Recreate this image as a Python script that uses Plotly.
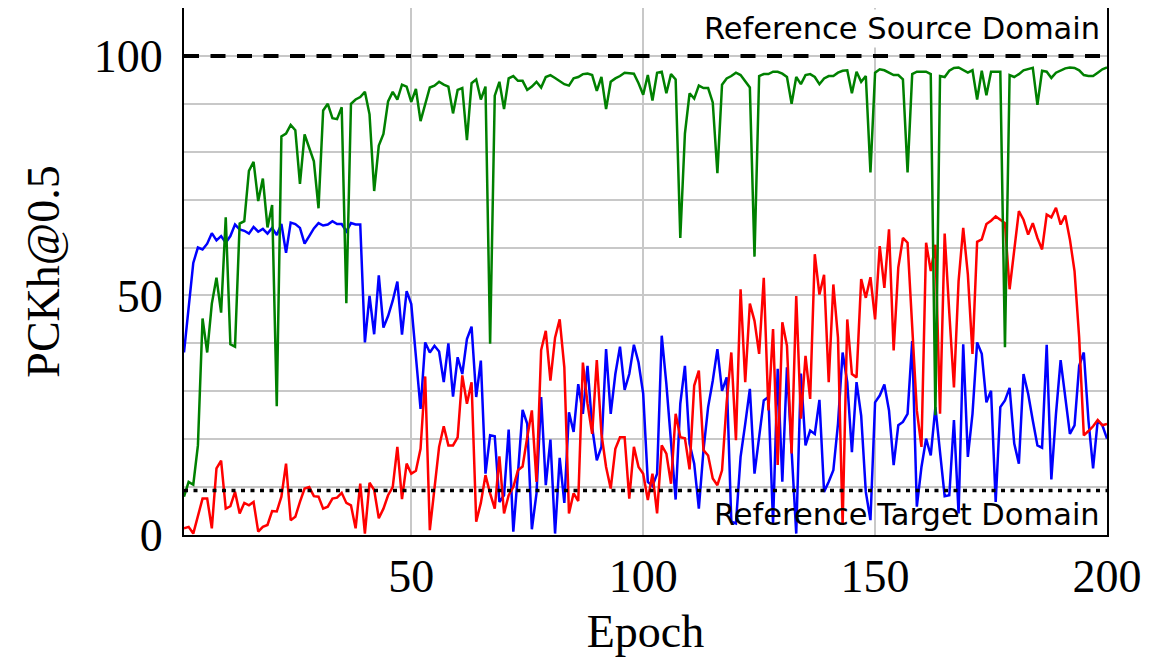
import plotly.graph_objects as go

epochs = list(range(1, 201))

green_source = [
    8.0, 11.1, 10.5, 18.7, 45.2, 38.1, 48.3, 53.7, 46.4, 66.3,
    39.8, 39.3, 65.0, 65.5, 76.0, 77.9, 69.7, 74.4, 64.2, 68.9,
    26.9, 83.2, 83.8, 85.6, 84.5, 73.3, 83.6, 81.0, 78.0, 68.2,
    88.6, 90.0, 87.0, 86.8, 89.3, 48.4, 90.0, 90.9, 91.4, 92.5,
    87.8, 71.8, 81.3, 83.7, 90.5, 92.5, 90.9, 94.0, 93.6, 90.4,
    93.1, 86.4, 90.0, 93.4, 93.8, 94.6, 94.0, 93.6, 88.0, 92.9,
    93.3, 82.4, 94.3, 95.1, 90.9, 93.6, 39.9, 91.7, 94.6, 88.9,
    95.3, 95.8, 94.8, 94.8, 92.9, 93.6, 94.6, 93.4, 95.6, 96.0,
    95.4, 94.7, 94.1, 93.8, 95.3, 95.6, 96.2, 96.3, 96.0, 92.7,
    95.6, 88.9, 94.6, 95.3, 95.8, 96.5, 96.4, 96.3, 94.3, 91.9,
    96.0, 90.7, 96.5, 96.7, 92.2, 96.2, 95.1, 62.0, 83.8, 92.2,
    91.1, 93.8, 93.3, 93.3, 90.3, 75.5, 94.0, 95.3, 95.8, 96.5,
    96.0, 94.6, 93.4, 58.1, 95.8, 96.2, 96.2, 96.7, 96.7, 96.3,
    95.6, 90.0, 95.6, 94.1, 96.0, 96.2, 95.6, 94.1, 95.3, 95.8,
    95.8, 96.5, 96.9, 97.0, 92.2, 96.7, 94.6, 95.8, 75.7, 96.5,
    97.2, 97.0, 96.5, 96.0, 96.0, 95.1, 75.7, 96.2, 96.7, 96.7,
    96.7, 96.2, 25.0, 95.8, 95.6, 96.9, 97.5, 97.6, 97.0, 96.5,
    97.0, 90.9, 96.9, 91.8, 96.7, 96.7, 96.7, 39.2, 96.0, 95.6,
    96.2, 97.0, 97.2, 97.5, 89.8, 96.9, 96.7, 95.4, 96.5, 97.0,
    97.4, 97.6, 97.5, 97.0, 96.0, 95.8, 95.8, 96.5, 97.2, 97.6,
]

blue_series = [
    38.1, 47.5, 56.8, 60.0, 59.6, 60.8, 63.0, 61.5, 62.4, 61.0,
    62.4, 64.8, 63.8, 63.5, 62.9, 64.3, 63.3, 63.9, 62.9, 64.1,
    62.6, 64.9, 58.9, 65.2, 64.9, 64.1, 60.8, 62.4, 64.0, 65.1,
    64.6, 64.8, 65.5, 64.9, 64.9, 63.4, 65.1, 64.8, 64.8, 40.2,
    49.9, 41.9, 54.2, 43.3, 45.7, 48.9, 52.9, 41.8, 50.9, 48.2,
    36.4, 26.3, 40.2, 38.1, 39.5, 38.3, 31.9, 40.0, 28.9, 37.1,
    33.6, 40.9, 43.5, 28.8, 36.4, 12.8, 20.8, 20.6, 6.9, 8.3,
    22.0, 0.7, 12.8, 26.1, 23.2, 1.2, 8.7, 28.8, 10.4, 19.9,
    0.3, 16.1, 6.7, 25.6, 21.5, 31.5, 25.3, 35.3, 22.5, 15.6,
    18.4, 38.8, 25.3, 33.6, 39.3, 30.3, 33.6, 39.7, 36.0, 29.5,
    11.1, 10.2, 12.8, 41.6, 31.5, 18.4, 7.4, 27.4, 35.3, 19.1,
    14.9, 5.5, 17.7, 26.7, 32.2, 38.8, 30.1, 32.9, 2.8, 2.4,
    16.3, 23.2, 30.5, 12.8, 20.4, 28.1, 28.8, 2.4, 34.7, 11.1,
    35.0, 16.3, 0.3, 33.7, 18.7, 21.8, 21.1, 28.2, 9.0, 11.1,
    13.5, 23.2, 38.1, 31.9, 17.3, 31.9, 24.9, 9.0, 3.1, 27.7,
    29.1, 31.4, 26.0, 14.6, 22.9, 23.6, 25.3, 40.5, 5.9, 14.2,
    20.1, 16.6, 26.7, 17.3, 8.1, 8.3, 24.0, 4.5, 39.8, 16.3,
    25.3, 40.2, 37.8, 27.7, 30.1, 6.9, 26.7, 28.1, 30.7, 19.1,
    14.9, 33.6, 29.5, 23.9, 18.7, 18.2, 39.7, 11.6, 25.3, 36.5,
    28.8, 21.1, 22.9, 35.3, 38.1, 23.9, 13.9, 23.9, 22.9, 20.1,
]

red_series = [
    1.4, 1.7, 0.3, 3.8, 7.6, 7.6, 1.4, 13.9, 15.5, 5.5,
    6.0, 9.0, 4.5, 6.7, 6.2, 6.9, 0.7, 1.7, 2.1, 5.0,
    4.9, 8.0, 14.9, 3.1, 3.8, 6.9, 9.7, 10.0, 8.1, 8.0,
    5.5, 5.9, 7.6, 7.8, 8.8, 6.7, 6.2, 1.4, 10.7, 0.3,
    10.9, 9.4, 3.5, 5.5, 8.3, 10.0, 18.4, 7.5, 14.9, 12.8,
    13.4, 18.0, 33.1, 1.0, 10.0, 18.4, 22.7, 18.7, 18.7, 20.4,
    33.3, 27.4, 31.9, 2.8, 6.7, 12.5, 8.7, 5.5, 16.4, 4.5,
    8.3, 10.0, 13.5, 14.3, 20.4, 26.0, 11.1, 38.6, 42.6, 32.2,
    41.2, 45.0, 35.0, 4.5, 8.7, 7.1, 36.0, 27.4, 21.1, 36.5,
    21.1, 14.2, 9.7, 18.0, 20.4, 20.4, 7.6, 18.4, 14.2, 12.8,
    7.3, 12.8, 4.5, 18.7, 17.0, 10.7, 25.3, 20.4, 20.2, 13.7,
    31.2, 34.3, 17.7, 16.6, 11.8, 10.4, 13.5, 27.7, 38.1, 19.8,
    51.3, 31.9, 48.3, 44.7, 37.8, 53.7, 26.0, 43.0, 14.6, 44.4,
    39.5, 17.0, 49.9, 24.3, 37.4, 28.4, 58.6, 50.2, 54.3, 31.9,
    52.3, 41.2, 2.1, 45.0, 33.6, 32.9, 53.4, 49.5, 53.8, 45.0,
    60.3, 51.6, 63.8, 38.5, 55.8, 62.0, 61.0, 44.7, 26.0, 18.4,
    61.0, 55.1, 60.6, 25.3, 62.9, 46.4, 30.8, 53.0, 64.1, 54.4,
    37.8, 61.2, 61.7, 64.9, 65.6, 66.5, 65.8, 65.1, 51.3, 58.9,
    67.6, 65.8, 62.7, 65.1, 62.0, 59.6, 66.9, 66.3, 68.3, 64.8,
    66.7, 61.7, 55.1, 41.2, 20.8, 21.7, 22.7, 24.0, 22.9, 23.2,
]

ref_source = 100.0
ref_target = 9.3
ref_source_label = "Reference Source Domain"
ref_target_label = "Reference Target Domain"

x_ticks = [50, 100, 150, 200]
y_ticks = [0, 50, 100]

fig = go.Figure()
fig.add_trace(go.Scatter(x=epochs, y=blue_series, mode="lines",
                         line=dict(color="rgb(0,0,255)", width=2.5), showlegend=False))
fig.add_trace(go.Scatter(x=epochs, y=red_series, mode="lines",
                         line=dict(color="rgb(255,0,0)", width=2.5), showlegend=False))
fig.add_trace(go.Scatter(x=epochs, y=green_source, mode="lines",
                         line=dict(color="rgb(0,128,0)", width=2.5), showlegend=False))

fig.add_shape(type="line", xref="x", yref="y", x0=1, x1=200, y0=ref_source, y1=ref_source,
              line=dict(color="black", width=4, dash="15px,11.5px"), layer="above")
fig.add_shape(type="line", xref="x", yref="y", x0=1, x1=200, y0=ref_target, y1=ref_target,
              line=dict(color="black", width=3.5, dash="4px,5.5px"), layer="above")

fig.add_annotation(x=200, y=105.8, xref="x", yref="y", text=ref_source_label,
                   showarrow=False, xanchor="right", yanchor="middle", xshift=-5,
                   font=dict(family="DejaVu Sans", size=30.5, color="black"),
                   bgcolor="white", borderpad=1)
fig.add_annotation(x=200, y=4.2, xref="x", yref="y", text=ref_target_label,
                   showarrow=False, xanchor="right", yanchor="middle", xshift=-5,
                   font=dict(family="DejaVu Sans", size=30.5, color="black"))

fig.update_layout(
    width=1170, height=664,
    margin=dict(l=176, r=71, t=0, b=137),
    paper_bgcolor="white", plot_bgcolor="white",
    font=dict(family="Liberation Serif", size=46, color="black"),
)
fig.update_xaxes(
    range=[1, 200], tickvals=x_ticks, ticktext=[str(v) for v in x_ticks],
    showgrid=True, gridcolor="rgb(200,200,200)", gridwidth=1.5,
    showline=True, linecolor="black", linewidth=2, mirror=True,
    ticks="", zeroline=False, automargin=False,
    title=dict(text="Epoch", font=dict(family="Liberation Serif", size=46), standoff=14),
    tickfont=dict(family="Liberation Serif", size=46),
)
fig.update_yaxes(
    range=[0, 110], tickvals=y_ticks, ticktext=[str(v) for v in y_ticks],
    showgrid=True, gridcolor="rgb(200,200,200)", gridwidth=1.5,
    minor=dict(dtick=10, tick0=0, showgrid=True, gridcolor="rgb(200,200,200)", gridwidth=1.5),
    showline=True, linecolor="black", linewidth=2, mirror=True,
    ticks="", zeroline=False, ticklabelstandoff=10, automargin=False,
    title=dict(text="PCKh@0.5", font=dict(family="Liberation Serif", size=46), standoff=20),
    tickfont=dict(family="Liberation Serif", size=46),
)

fig.write_html("out.html")
